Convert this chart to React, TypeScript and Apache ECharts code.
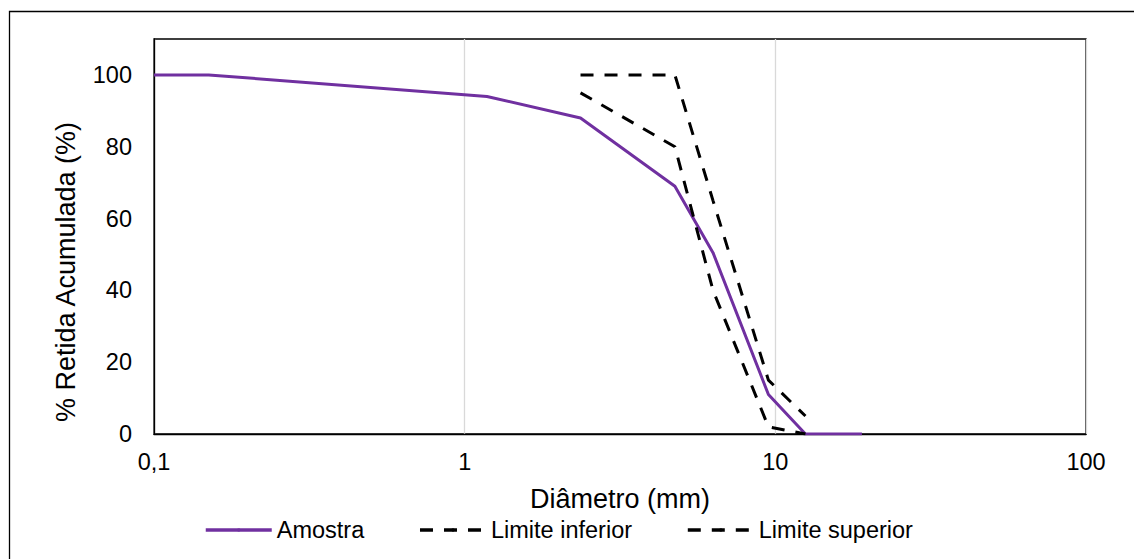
import React, { useEffect, useRef } from "react";
import * as echarts from "echarts";

const seriesNames = ["Amostra", "Limite inferior", "Limite superior"];
const amostraX = [0.1, 0.15, 1.18, 2.36, 4.75, 6.3, 9.5, 12.5, 19];
const amostraY = [100, 100, 94, 88, 69, 50.5, 11, 0, 0];
const inferiorX = [2.36, 4.75, 6.3, 9.5, 12.5];
const inferiorY = [95, 80, 40, 2, 0];
const superiorX = [2.36, 4.75, 6.3, 9.5, 12.5];
const superiorY = [100, 100, 65, 15, 5];
const xTicks = [0.1, 1, 10, 100];
const yTicks = [0, 20, 40, 60, 80, 100];
const xTitle = "Diâmetro (mm)";
const yTitle = "% Retida Acumulada (%)";

const FONT = "'Liberation Sans', Arial, sans-serif";

export default function App() {
  const ref = useRef<HTMLDivElement>(null);
  useEffect(() => {
    if (!ref.current) return;
    const chart = echarts.init(ref.current, null, { renderer: "svg" });
    const pair = (xs: number[], ys: number[]) => xs.map((x, i) => [x, ys[i]]);
    const dash = { type: [13, 11] as any, width: 3, color: "#000" };
    chart.setOption({
      animation: false,
      backgroundColor: "#fff",
      textStyle: { fontFamily: FONT },
      grid: {
        left: 154,
        right: 48,
        top: 39,
        bottom: 125,
        show: true,
        borderColor: "#000",
        borderWidth: 1.3,
        containLabel: false,
      },
      graphic: [
        {
          type: "rect",
          shape: { x: 9.5, y: 11.5, width: 1140, height: 560 },
          style: { fill: "none", stroke: "#000", lineWidth: 1.3 },
          z: -1,
          silent: true,
        },
        {
          type: "text",
          x: 66,
          y: 272,
          rotation: Math.PI / 2,
          style: {
            text: yTitle,
            fontFamily: FONT,
            fontSize: 27,
            fill: "#000",
            textAlign: "center",
            textVerticalAlign: "middle",
          },
          silent: true,
        },
      ],
      legend: {
        left: 199,
        top: 513,
        itemWidth: 66,
        itemHeight: 4,
        itemGap: 54,
        lineStyle: { width: 3.5 },
        textStyle: { fontFamily: FONT, fontSize: 23.5, color: "#000" },
        data: seriesNames,
      },
      xAxis: {
        type: "log",
        logBase: 10,
        min: xTicks[0],
        max: xTicks[xTicks.length - 1],
        name: xTitle,
        nameLocation: "middle",
        nameGap: 51,
        nameTextStyle: { fontFamily: FONT, fontSize: 27, color: "#000" },
        axisLine: { show: true, lineStyle: { color: "#000", width: 1.3 } },
        axisTick: { show: false },
        axisLabel: {
          margin: 16,
          fontFamily: FONT,
          fontSize: 23.5,
          color: "#000",
          formatter: (v: number) => String(v).replace(".", ","),
        },
        splitLine: { show: true, lineStyle: { color: "#D9D9D9", width: 1.3 } },
      },
      yAxis: {
        type: "value",
        min: yTicks[0],
        max: 110,
        interval: 20,
        axisLine: { show: true, lineStyle: { color: "#000", width: 1.3 } },
        axisTick: { show: false },
        axisLabel: {
          margin: 22,
          fontFamily: FONT,
          fontSize: 23.5,
          color: "#000",
          formatter: (v: number) => (yTicks.indexOf(v) >= 0 ? String(v) : ""),
        },
        splitLine: { show: false },
      },
      series: [
        {
          name: seriesNames[0],
          type: "line",
          data: pair(amostraX, amostraY),
          showSymbol: false,
          symbol: "none",
          lineStyle: { color: "#7030A0", width: 3 },
          itemStyle: { color: "#7030A0" },
          z: 3,
        },
        {
          name: seriesNames[1],
          type: "line",
          data: pair(inferiorX, inferiorY),
          showSymbol: false,
          symbol: "none",
          lineStyle: dash,
          itemStyle: { color: "#000" },
          z: 4,
        },
        {
          name: seriesNames[2],
          type: "line",
          data: pair(superiorX, superiorY),
          showSymbol: false,
          symbol: "none",
          lineStyle: dash,
          itemStyle: { color: "#000" },
          z: 4,
        },
      ],
    });
    return () => chart.dispose();
  }, []);
  return (
    <div
      ref={ref}
      style={{ position: "fixed", left: 0, top: 0, width: 1134, height: 559 }}
    />
  );
}
